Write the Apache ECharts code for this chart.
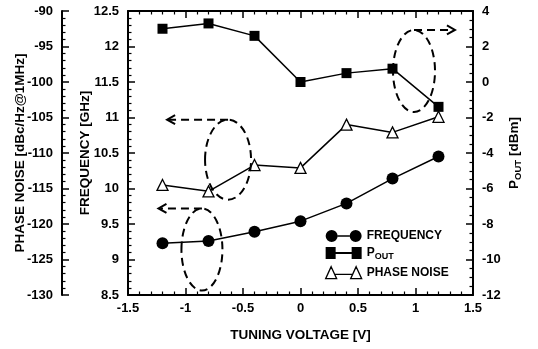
<!DOCTYPE html>
<html><head><meta charset="utf-8">
<script src="https://cdn.jsdelivr.net/npm/echarts@6/dist/echarts.min.js"></script>
<style>html,body{margin:0;padding:0;background:#fff}#c{width:538px;height:349px}</style>
</head><body><div id="c"></div>
<script>
// ---- data ----
const voltage = [-1.2, -0.8, -0.4, 0, 0.4, 0.8, 1.2];
const frequency = [9.23, 9.26, 9.39, 9.54, 9.79, 10.14, 10.45];
const pout = [3.0, 3.3, 2.6, 0.0, 0.5, 0.75, -1.4];
const phaseNoise = [-114.5, -115.4, -111.7, -112.1, -106.0, -107.1, -104.9];
const seriesNames = ['FREQUENCY', 'POUT', 'PHASE NOISE'];
// annotation ellipses: centre in (voltage, frequency) units, arrow tip voltage
const annotations = [
  { x: -0.857, f: 9.141, rx: 20.5, ry: 41, tipX: -1.235 },
  { x: -0.630, f: 10.406, rx: 23, ry: 40, tipX: -1.16 },
  { x: 0.987, f: 11.655, rx: 21, ry: 41, tipX: 1.343 }
];

const FONT = 'Liberation Sans, Arial, Helvetica, sans-serif';
const lbl = { color: '#000', fontFamily: FONT, fontWeight: 'bold', fontSize: 13 };
const nameStyle = { color: '#000', fontFamily: FONT, fontWeight: 'bold', fontSize: 13.5 };
const axisLine = { show: true, onZero: false, lineStyle: { color: '#000', width: 2 } };
const tick = (len) => ({ show: true, inside: true, length: len, lineStyle: { color: '#000', width: 1.5 } });
const minor = (n) => ({ show: true, splitNumber: n, length: 3.5, lineStyle: { color: '#000', width: 1.2 } });

const pair = (ys) => voltage.map((v, i) => [v, ys[i]]);

const chart = echarts.init(document.getElementById('c'), null, { renderer: 'canvas' });
chart.setOption({
  animation: false,
  backgroundColor: '#fff',
  grid: { left: 128, right: 65, top: 11, bottom: 54, containLabel: false, outerBoundsMode: 'none' },
  xAxis: [
    {
      type: 'value', min: -1.5, max: 1.5, interval: 0.5, position: 'bottom',
      axisLine, axisTick: tick(7), minorTick: minor(5), splitLine: { show: false },
      axisLabel: Object.assign({ margin: 7 }, lbl),
      name: 'TUNING VOLTAGE [V]', nameLocation: 'middle', nameGap: 33, nameMoveOverlap: false, nameTextStyle: nameStyle
    },
    {
      type: 'value', min: -1.5, max: 1.5, interval: 0.5, position: 'top',
      axisLine, axisTick: tick(7), minorTick: minor(5), splitLine: { show: false },
      axisLabel: { show: false }
    }
  ],
  yAxis: [
    {
      type: 'value', min: 8.5, max: 12.5, interval: 0.5, position: 'left',
      axisLine, axisTick: tick(7), minorTick: minor(5), splitLine: { show: false },
      axisLabel: Object.assign({ margin: 9 }, lbl),
      name: 'FREQUENCY [GHz]', nameLocation: 'middle', nameRotate: 90, nameGap: 36, nameMoveOverlap: false, nameTextStyle: nameStyle
    },
    {
      type: 'value', min: -130, max: -90, interval: 5, position: 'left', offset: 66,
      axisLine, axisTick: tick(7), minorTick: minor(5), splitLine: { show: false },
      axisLabel: Object.assign({ margin: 9 }, lbl),
      name: 'PHASE NOISE [dBc/Hz@1MHz]', nameLocation: 'middle', nameRotate: 90, nameGap: 35, nameMoveOverlap: false, nameTextStyle: nameStyle
    },
    {
      type: 'value', min: -12, max: 4, interval: 2, position: 'right',
      axisLine, axisTick: tick(7), minorTick: minor(4), splitLine: { show: false },
      axisLabel: Object.assign({ margin: 9 }, lbl),
      name: '{a|P}{s|OUT}{a| [dBm]}', nameLocation: 'middle', nameRotate: 90, nameGap: 32, nameMoveOverlap: false,
      nameTextStyle: Object.assign({}, nameStyle, {
        rich: {
          a: { fontFamily: FONT, fontWeight: 'bold', fontSize: 13.5, color: '#000' },
          s: { fontFamily: FONT, fontWeight: 'bold', fontSize: 9.5, color: '#000', padding: [8, 0, 0, 0] }
        }
      })
    }
  ],
  legend: {
    orient: 'vertical', left: 325, top: 230, padding: 0, itemWidth: 36, itemHeight: 12, itemGap: 5,
    selectedMode: false, symbolKeepAspect: false,
    textStyle: {
      color: '#000', fontFamily: FONT, fontWeight: 'bold', fontSize: 12,
      rich: {
        a: { fontFamily: FONT, fontWeight: 'bold', fontSize: 12, color: '#000' },
        s: { fontFamily: FONT, fontWeight: 'bold', fontSize: 9, color: '#000', padding: [7, 0, 0, 0] }
      }
    },
    formatter: (n) => n === 'POUT' ? '{a|P}{s|OUT}' : '{a|' + n + '}',
    data: [
      { name: 'FREQUENCY', icon: 'path://M0,6A6,6,0,1,1,12,6A6,6,0,1,1,0,6Z M12,5.2L24,5.2L24,6.8L12,6.8Z M24,6A6,6,0,1,1,36,6A6,6,0,1,1,24,6Z',
        itemStyle: { color: '#000', borderWidth: 0 } },
      { name: 'POUT', icon: 'path://M0,1L10,1L10,11L0,11Z M10,5.2L26,5.2L26,6.8L10,6.8Z M26,1L36,1L36,11L26,11Z',
        itemStyle: { color: '#000', borderWidth: 0 } },
      { name: 'PHASE NOISE', icon: 'path://M5.5,0L11,11L0,11Z M8.5,7L27.5,7 M30.5,0L36,11L25,11Z',
        itemStyle: { color: '#fff', borderColor: '#000', borderWidth: 1.3 } }
    ]
  },
  series: [
    {
      name: seriesNames[0], type: 'line', xAxisIndex: 0, yAxisIndex: 0, data: pair(frequency),
      symbol: 'circle', symbolSize: 12, itemStyle: { color: '#000' },
      lineStyle: { color: '#000', width: 1.5 }, z: 3
    },
    {
      name: seriesNames[1], type: 'line', xAxisIndex: 0, yAxisIndex: 2, data: pair(pout),
      symbol: 'rect', symbolSize: 10, itemStyle: { color: '#000' },
      lineStyle: { color: '#000', width: 1.5 }, z: 4
    },
    {
      name: seriesNames[2], type: 'line', xAxisIndex: 0, yAxisIndex: 1, data: pair(phaseNoise),
      symbol: 'triangle', symbolSize: 11, showAllSymbol: true,
      itemStyle: { color: '#fff', borderColor: '#000', borderWidth: 1.3 },
      lineStyle: { color: '#000', width: 1.5 }, z: 3
    }
  ]
});

// annotations (dashed ellipses with dashed arrows), positioned via the axes
const g = [];
annotations.forEach((a) => {
  const c = chart.convertToPixel({ xAxisIndex: 0, yAxisIndex: 0 }, [a.x, a.f]);
  const tip = chart.convertToPixel({ xAxisIndex: 0, yAxisIndex: 0 }, [a.tipX, a.f]);
  const topY = c[1] - a.ry;
  const dir = tip[0] < c[0] ? 1 : -1;
  g.push({ type: 'ellipse', shape: { cx: c[0], cy: c[1], rx: a.rx, ry: a.ry },
    style: { fill: 'none', stroke: '#000', lineWidth: 2, lineDash: [8, 5] }, z: 10 });
  g.push({ type: 'line', shape: { x1: c[0], y1: topY, x2: tip[0] + dir * 2, y2: topY },
    style: { stroke: '#000', lineWidth: 2, lineDash: [8, 5] }, z: 10 });
  g.push({ type: 'polyline', shape: { points: [[tip[0] + dir * 8, topY - 4.5], [tip[0], topY], [tip[0] + dir * 8, topY + 4.5]] },
    style: { fill: 'none', stroke: '#000', lineWidth: 2 }, z: 10 });
});
chart.setOption({ graphic: g });
</script>
</body></html>
